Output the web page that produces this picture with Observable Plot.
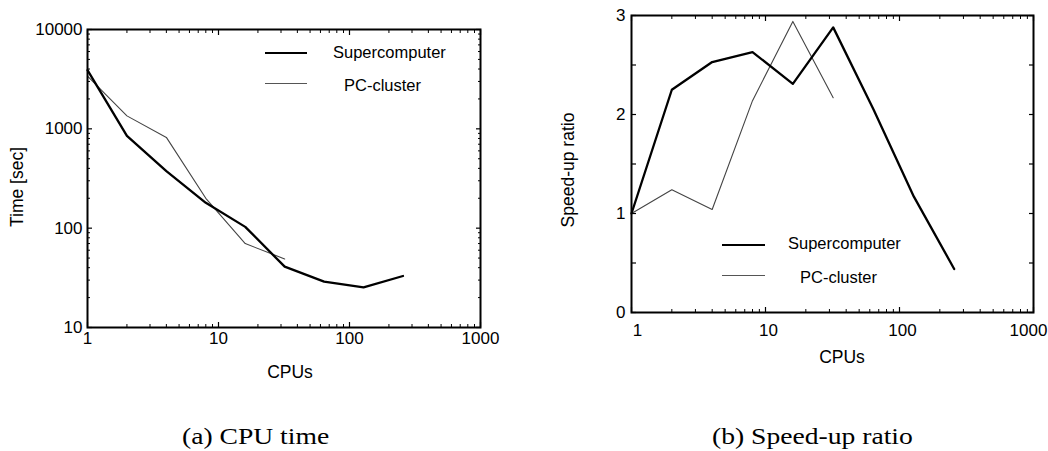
<!DOCTYPE html>
<html><head><meta charset="utf-8">
<script src="https://cdn.jsdelivr.net/npm/d3@7"></script>
<script src="https://cdn.jsdelivr.net/npm/@observablehq/plot@0.6"></script>
<style>
body{margin:0;background:#fff;width:1048px;height:451px;position:relative;overflow:hidden;font-family:"Liberation Sans",Arial,sans-serif;color:#000}
.panel{position:absolute;top:0}
.t{position:absolute;white-space:nowrap;line-height:20px}
.leg{font-size:16.5px}
.ttl{font-size:17.5px}
.rot{transform:translate(-50%,-50%) rotate(-90deg)}
.ln{position:absolute}
.cap{position:absolute;white-space:nowrap;font-family:"Liberation Serif","Times New Roman",serif;font-size:24px;line-height:24px;transform:scaleX(1.15);transform-origin:0 0}
</style></head><body>
<div id="a" class="panel" style="left:0"></div>
<div id="b" class="panel" style="left:524px"></div>
<script>
// ---- data ----
const cpusSuper = [1, 2, 4, 8, 16, 32, 64, 128, 256];
const cpusPC = [1, 2, 4, 8, 16, 32];
const timeSuper = [3900, 850, 375, 180, 103, 41, 29, 25.4, 33];
const timePC = [3400, 1350, 820, 200, 70, 49];
const speedSuper = [1.0, 2.25, 2.53, 2.63, 2.31, 2.88, 2.05, 1.17, 0.44];
const speedPC = [1.0, 1.24, 1.04, 2.14, 2.94, 2.17];
const seriesNames = ["Supercomputer", "PC-cluster"];
const xTicks = [1, 10, 100, 1000];
const yTicksTime = [10, 100, 1000, 10000];
const yTicksSpeed = [0, 1, 2, 3];
const yMinorSpeed = [0, 0.5, 1, 1.5, 2, 2.5, 3];
const xMinor = [];
for (const d of [1, 10, 100]) for (let m = 2; m <= 9; m++) xMinor.push(d * m);
const yMinorTime = [];
for (const d of [10, 100, 1000]) for (let m = 2; m <= 9; m++) yMinorTime.push(d * m);

const timeRows = [
  ...cpusSuper.map((c, i) => ({cpu: c, v: timeSuper[i], s: seriesNames[0]})),
  ...cpusPC.map((c, i) => ({cpu: c, v: timePC[i], s: seriesNames[1]}))
];
const speedRows = [
  ...cpusSuper.map((c, i) => ({cpu: c, v: speedSuper[i], s: seriesNames[0]})),
  ...cpusPC.map((c, i) => ({cpu: c, v: speedPC[i], s: seriesNames[1]}))
];

const fmt = d => String(d);
const blank = () => "";
function tickMarks(xMaj, xMin, yMaj, yMin) {
  return [
    Plot.axisX({anchor: "bottom", ticks: xMaj, tickSize: 5, dy: -5, tickFormat: blank, label: null, strokeWidth: 1.2}),
    Plot.axisX({anchor: "top", ticks: xMaj, tickSize: 5, dy: 5, tickFormat: blank, label: null, strokeWidth: 1.2}),
    Plot.axisX({anchor: "bottom", ticks: xMin, tickSize: 3, dy: -3, tickFormat: blank, label: null, strokeWidth: 1}),
    Plot.axisX({anchor: "top", ticks: xMin, tickSize: 3, dy: 3, tickFormat: blank, label: null, strokeWidth: 1}),
    Plot.axisY({anchor: "left", ticks: yMaj, tickSize: 5, dx: 5, tickFormat: blank, label: null, strokeWidth: 1.2}),
    Plot.axisY({anchor: "right", ticks: yMaj, tickSize: 5, dx: -5, tickFormat: blank, label: null, strokeWidth: 1.2}),
    Plot.axisY({anchor: "left", ticks: yMin, tickSize: 3, dx: 3, tickFormat: blank, label: null, strokeWidth: 1}),
    Plot.axisY({anchor: "right", ticks: yMin, tickSize: 3, dx: -3, tickFormat: blank, label: null, strokeWidth: 1})
  ];
}
const lineMarks = rows => [
  Plot.line(rows.filter(d => d.s === seriesNames[1]), {x: "cpu", y: "v", stroke: "#444", strokeWidth: 1.1}),
  Plot.line(rows.filter(d => d.s === seriesNames[0]), {x: "cpu", y: "v", stroke: "#000", strokeWidth: 2.3})
];
const baseStyle = {fontFamily: "'Liberation Sans', Arial, sans-serif", fontSize: "17px", background: "#fff", color: "#000", overflow: "visible"};

const chartA = Plot.plot({
  width: 524, height: 380,
  marginLeft: 87, marginRight: 44, marginTop: 29, marginBottom: 53,
  style: baseStyle,
  x: {type: "log", domain: [1, 1000]},
  y: {type: "log", domain: [10, 10000]},
  marks: [
    Plot.axisX({anchor: "bottom", ticks: xTicks, tickSize: 0, tickPadding: 4, tickFormat: fmt, label: null}),
    Plot.axisY({anchor: "left", ticks: yTicksTime, tickSize: 0, tickPadding: 5, tickFormat: fmt, label: null}),
    ...tickMarks(xTicks, xMinor, yTicksTime, yMinorTime),
    ...lineMarks(timeRows),
    Plot.frame({stroke: "#000", strokeWidth: 2})
  ]
});
document.getElementById("a").append(chartA);

const chartB = Plot.plot({
  width: 524, height: 380,
  marginLeft: 107, marginRight: 15, marginTop: 15, marginBottom: 68,
  style: baseStyle,
  x: {type: "log", domain: [1, 1000]},
  y: {type: "linear", domain: [0, 3]},
  marks: [
    Plot.axisX({anchor: "bottom", ticks: xTicks.slice(0, 1), tickSize: 0, tickPadding: 11, dx: 6, tickFormat: fmt, label: null}),
    Plot.axisX({anchor: "bottom", ticks: xTicks.slice(1, 3), tickSize: 0, tickPadding: 11, dx: 3, tickFormat: fmt, label: null}),
    Plot.axisX({anchor: "bottom", ticks: xTicks.slice(3), tickSize: 0, tickPadding: 11, dx: -5, tickFormat: fmt, label: null}),
    Plot.axisY({anchor: "left", ticks: yTicksSpeed, tickSize: 0, tickPadding: 6, tickFormat: fmt, label: null}),
    ...tickMarks(xTicks, xMinor, yMinorSpeed, []),
    ...lineMarks(speedRows),
    Plot.frame({stroke: "#000", strokeWidth: 2})
  ]
});
document.getElementById("b").append(chartB);

// ---- overlay text: axis titles, legends, captions ----
function add(html) { document.body.insertAdjacentHTML("beforeend", html); }
add(`<div class="t ttl" style="left:290px;top:372px;transform:translate(-50%,-50%)">CPUs</div>`);
add(`<div class="t ttl" style="left:842px;top:357px;transform:translate(-50%,-50%)">CPUs</div>`);
add(`<div class="t ttl rot" style="left:17px;top:187px">Time [sec]</div>`);
add(`<div class="t ttl rot" style="left:568px;top:170px">Speed-up ratio</div>`);
// legends
add(`<div class="ln" style="left:265px;top:51.5px;width:42px;height:2.6px;background:#000"></div>`);
add(`<div class="t leg" style="left:333px;top:42px">${seriesNames[0]}</div>`);
add(`<div class="ln" style="left:265px;top:83px;width:42px;height:1.2px;background:#555"></div>`);
add(`<div class="t leg" style="left:344px;top:75px">${seriesNames[1]}</div>`);
add(`<div class="ln" style="left:722px;top:243.8px;width:43px;height:2.6px;background:#000"></div>`);
add(`<div class="t leg" style="left:788px;top:233px">${seriesNames[0]}</div>`);
add(`<div class="ln" style="left:722px;top:274.5px;width:43px;height:1.2px;background:#555"></div>`);
add(`<div class="t leg" style="left:800px;top:267px">${seriesNames[1]}</div>`);
// captions
add(`<div class="cap" style="left:182px;top:424px">(a) CPU time</div>`);
add(`<div class="cap" style="left:712px;top:424px">(b) Speed-up ratio</div>`);
</script>
</body></html>
